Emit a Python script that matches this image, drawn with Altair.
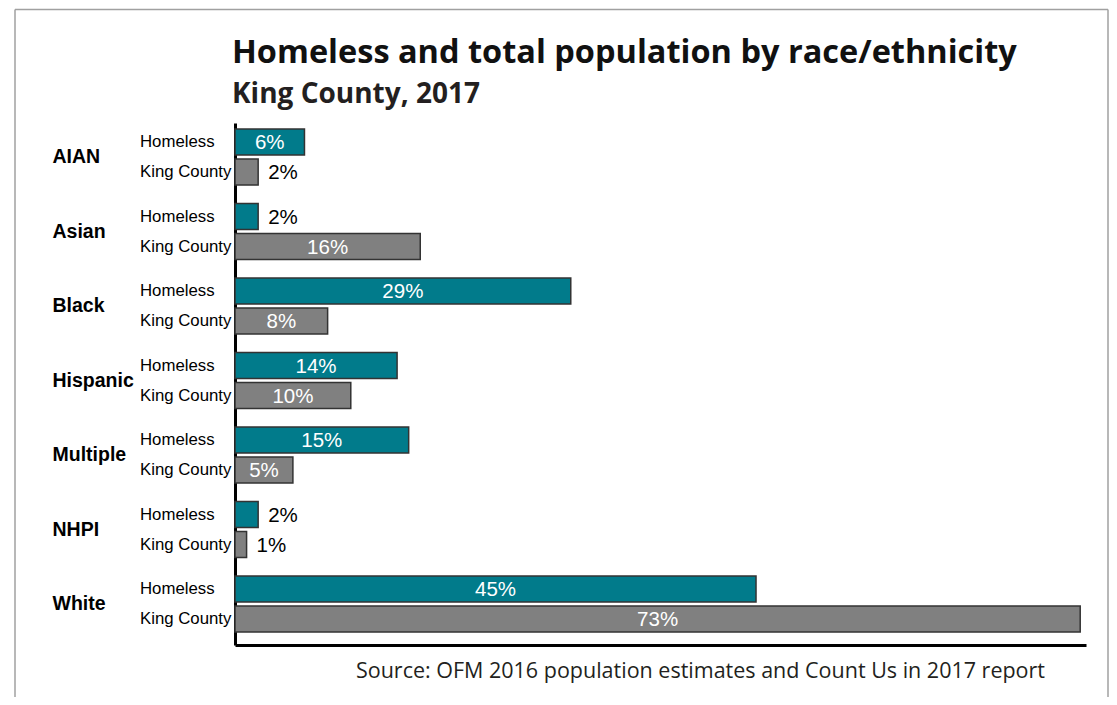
import altair as alt
import pandas as pd

races = ["AIAN", "Asian", "Black", "Hispanic", "Multiple", "NHPI", "White"]
homeless = [6, 2, 29, 14, 15, 2, 45]
king_county = [2, 16, 8, 10, 5, 1, 73]
groups = ["Homeless", "King County"]

title_text = "Homeless and total population by race/ethnicity"
subtitle_text = "King County, 2017"
source_text = "Source: OFM 2016 population estimates and Count Us in 2017 report"

rows = []
for r, h, k in zip(races, homeless, king_county):
    rows.append({"race": r, "group": groups[0], "value": h})
    rows.append({"race": r, "group": groups[1], "value": k})
df = pd.DataFrame(rows)
df["label"] = df["value"].astype(str) + "%"

NARROW = "Liberation Sans, Arial, sans-serif"
HUMAN = "Open Sans, Lato, sans-serif"

W, H = 851, 522

y_enc = alt.Y("race:N", sort=races,
              scale=alt.Scale(paddingInner=0.248, paddingOuter=0.1275, align=0.32),
              axis=alt.Axis(title=None, ticks=False, labelPadding=183, labelAlign="left",
                            labelFont=NARROW, labelFontSize=19.5, labelFontWeight="bold",
                            labelColor="#000000", domainColor="#000000", domainWidth=3))
yoff = alt.YOffset("group:N", sort=groups, scale=alt.Scale(paddingInner=0.133, paddingOuter=0.0))
x_scale = alt.Scale(domain=[0, 73.5], nice=False)

base = alt.Chart(df)

bars = base.mark_bar(stroke="#333333", strokeWidth=1.5).encode(
    x=alt.X("value:Q", scale=x_scale,
            axis=alt.Axis(title=None, labels=False, ticks=False, grid=False,
                          domainColor="#000000", domainWidth=3)),
    y=y_enc,
    yOffset=yoff,
    color=alt.Color("group:N", sort=groups,
                    scale=alt.Scale(domain=groups, range=["#017b8b", "#808080"]),
                    legend=None),
)

inside = base.transform_filter("datum.value >= 3").transform_calculate(
    mid="datum.value / 2"
).mark_text(font=NARROW, fontSize=20.5, color="white", align="center", baseline="middle", dy=1).encode(
    x=alt.X("mid:Q", scale=x_scale),
    y=alt.Y("race:N", sort=races),
    yOffset=alt.YOffset("group:N", sort=groups),
    text="label:N",
)

outside = base.transform_filter("datum.value < 3").mark_text(
    font=NARROW, fontSize=20.5, color="black", align="left", baseline="middle", dx=10, dy=1
).encode(
    x=alt.X("value:Q", scale=x_scale),
    y=alt.Y("race:N", sort=races),
    yOffset=alt.YOffset("group:N", sort=groups),
    text="label:N",
)

sublabels = base.mark_text(font=NARROW, fontSize=16.8, color="black", align="left", baseline="middle").encode(
    x=alt.value(-95),
    y=alt.Y("race:N", sort=races),
    yOffset=alt.YOffset("group:N", sort=groups),
    text="group:N",
)

tdf = pd.DataFrame({"t": [title_text]})
sdf = pd.DataFrame({"t": [subtitle_text]})
srcdf = pd.DataFrame({"t": [source_text]})
frame_df = pd.DataFrame({"f": [1]})

title = alt.Chart(tdf).mark_text(font=HUMAN, fontSize=32.5, fontWeight="bold", color="#111111",
                                 align="left", baseline="alphabetic").encode(
    x=alt.value(-3), y=alt.value(-60), text="t:N")
subtitle = alt.Chart(sdf).mark_text(font=HUMAN, fontSize=28, fontWeight="bold", color="#231f20",
                                    align="left", baseline="alphabetic").encode(
    x=alt.value(-3), y=alt.value(-20), text="t:N")
source = alt.Chart(srcdf).mark_text(font=HUMAN, fontSize=21.5, color="#231f20",
                                    align="right", baseline="alphabetic").encode(
    x=alt.value(810), y=alt.value(555), text="t:N")

frame_style = dict(stroke="#a0a0a0", strokeWidth=1.5)
frame_top = alt.Chart(frame_df).mark_rule(**frame_style).encode(
    x=alt.value(-220), x2=alt.value(873), y=alt.value(-113.5), y2=alt.value(-113.5))
frame_left = alt.Chart(frame_df).mark_rule(**frame_style).encode(
    x=alt.value(-220), x2=alt.value(-220), y=alt.value(-113.5), y2=alt.value(640))
frame_right = alt.Chart(frame_df).mark_rule(**frame_style).encode(
    x=alt.value(873), x2=alt.value(873), y=alt.value(-113.5), y2=alt.value(640))

chart = alt.layer(frame_top, frame_left, frame_right, bars, inside, outside, sublabels,
                  title, subtitle, source).properties(
    width=W, height=H,
    autosize=alt.AutoSizeParams(type="none"),
    padding={"left": 227, "top": 115, "right": 23, "bottom": 52},
).configure(background="white").configure_view(strokeWidth=0, stroke="transparent")

chart.save("out.html", embed_options={"renderer": "svg", "actions": False})
